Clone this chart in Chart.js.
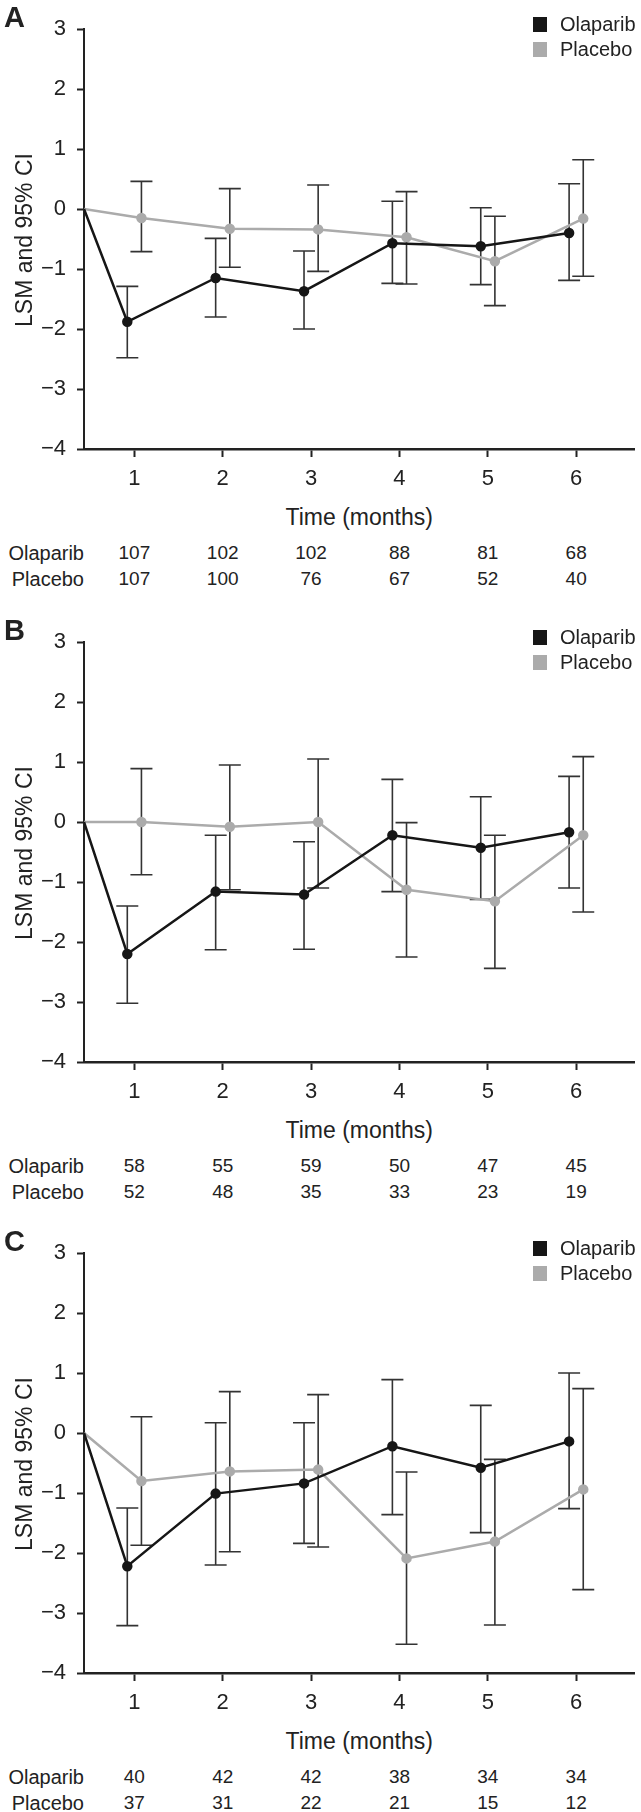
<!DOCTYPE html>
<html>
<head>
<meta charset="utf-8">
<script src="https://cdn.jsdelivr.net/npm/chart.js@4.4.1/dist/chart.umd.min.js"></script>
<style>
  body { margin: 0; background: #fff; font-family: "Liberation Sans", Arial, sans-serif; color: #222; }
  #page { position: relative; width: 641px; height: 1812px; overflow: hidden; }
  .panel { position: absolute; left: 0; width: 641px; height: 612px; }
  .panel canvas { position: absolute; left: 0; top: 0; }
  .letter { position: absolute; left: 4px; top: 1px; font-weight: bold; font-size: 29px; }
  .ytitle { position: absolute; left: 24px; top: 240px; transform: translate(-50%, -50%) rotate(-90deg); font-size: 23px; white-space: nowrap; }
  .xtitle { position: absolute; left: 363px; top: 517px; transform: translate(-50%, -50%); font-size: 23px; white-space: nowrap; }
  .legend { position: absolute; left: 533px; top: 12px; font-size: 20px; }
  .legend div { height: 25px; display: flex; align-items: center; }
  .legend .sw { display: inline-block; width: 14px; height: 15px; margin-right: 13px; }
  .risk { position: absolute; font-size: 19px; transform: translate(-50%, -50%); white-space: nowrap; }
  .risklab { position: absolute; font-size: 20px; transform: translate(-100%, -50%); white-space: nowrap; }
</style>
</head>
<body>
<div id="page"></div>
<script>
// months on the x axis
const MONTHS = [1, 2, 3, 4, 5, 6];
const TREATMENTS = ["Olaparib", "Placebo"];
const Y_TICKS = [-4, -3, -2, -1, 0, 1, 2, 3];

// panel A
const A_OLA    = [-1.88, -1.15, -1.37, -0.57, -0.62, -0.40];
const A_OLA_LO = [-2.48, -1.80, -2.00, -1.24, -1.26, -1.19];
const A_OLA_HI = [-1.29, -0.49, -0.70,  0.13,  0.02,  0.42];
const A_PLA    = [-0.15, -0.33, -0.34, -0.47, -0.87, -0.16];
const A_PLA_LO = [-0.71, -0.97, -1.04, -1.25, -1.61, -1.12];
const A_PLA_HI = [ 0.46,  0.34,  0.40,  0.29, -0.12,  0.82];
const A_N_OLA  = [107, 102, 102, 88, 81, 68];
const A_N_PLA  = [107, 100, 76, 67, 52, 40];

// panel B
const B_OLA    = [-2.20, -1.16, -1.21, -0.22, -0.43, -0.17];
const B_OLA_LO = [-3.02, -2.13, -2.12, -1.16, -1.29, -1.10];
const B_OLA_HI = [-1.40, -0.22, -0.33,  0.71,  0.42,  0.76];
const B_PLA    = [ 0.00, -0.08,  0.00, -1.13, -1.32, -0.22];
const B_PLA_LO = [-0.88, -1.13, -1.10, -2.25, -2.44, -1.50];
const B_PLA_HI = [ 0.89,  0.95,  1.05, -0.01, -0.22,  1.09];
const B_N_OLA  = [58, 55, 59, 50, 47, 45];
const B_N_PLA  = [52, 48, 35, 33, 23, 19];

// panel C
const C_OLA    = [-2.22, -1.01, -0.84, -0.22, -0.58, -0.14];
const C_OLA_LO = [-3.21, -2.20, -1.84, -1.36, -1.66, -1.26];
const C_OLA_HI = [-1.25,  0.17,  0.17,  0.89,  0.46,  1.00];
const C_PLA    = [-0.80, -0.64, -0.61, -2.09, -1.81, -0.94];
const C_PLA_LO = [-1.87, -1.98, -1.90, -3.52, -3.20, -2.61];
const C_PLA_HI = [ 0.27,  0.69,  0.64, -0.65, -0.44,  0.74];
const C_N_OLA  = [40, 42, 42, 38, 34, 34];
const C_N_PLA  = [37, 31, 22, 21, 15, 12];

const X_MIN = 0.43, X_MAX = 6.66;
const DODGE = 0.08;
const OLA_COLOR = "#161616";
const PLA_COLOR = "#ababab";
const BAR_COLOR = "#333333";

Chart.defaults.font.family = "'Liberation Sans', Arial, sans-serif";
Chart.defaults.color = "#222";

// draws the 95% CI whiskers from each dataset's lo/hi arrays
const errorBars = {
  id: "errorBars",
  beforeDatasetsDraw(chart) {
    const ctx = chart.ctx;
    const xs = chart.scales.x, ys = chart.scales.y;
    ctx.save();
    ctx.strokeStyle = BAR_COLOR;
    ctx.lineWidth = 1.6;
    chart.data.datasets.forEach(ds => {
      MONTHS.forEach((m, i) => {
        const x = xs.getPixelForValue(m + ds.shift);
        const yLo = ys.getPixelForValue(ds.lo[i]);
        const yHi = ys.getPixelForValue(ds.hi[i]);
        ctx.beginPath();
        ctx.moveTo(x, yLo); ctx.lineTo(x, yHi);
        ctx.moveTo(x - 11, yLo); ctx.lineTo(x + 11, yLo);
        ctx.moveTo(x - 11, yHi); ctx.lineTo(x + 11, yHi);
        ctx.stroke();
      });
    });
    ctx.restore();
  }
};

function series(label, vals, lo, hi, shift, color) {
  return {
    label: label,
    data: [{ x: X_MIN, y: 0 }].concat(MONTHS.map((m, i) => ({ x: m + shift, y: vals[i] }))),
    lo: lo, hi: hi, shift: shift,
    borderColor: color,
    backgroundColor: color,
    borderWidth: 2.5,
    pointRadius: [0, 4, 4, 4, 4, 4, 4],
    pointHoverRadius: 0,
    tension: 0
  };
}

function makePanel(top, letter, ola, olaLo, olaHi, pla, plaLo, plaHi, nOla, nPla) {
  const panel = document.createElement("div");
  panel.className = "panel";
  panel.style.top = top + "px";
  document.getElementById("page").appendChild(panel);

  const canvas = document.createElement("canvas");
  canvas.width = 641;
  canvas.height = 495;
  panel.appendChild(canvas);

  const chart = new Chart(canvas, {
    type: "line",
    data: {
      datasets: [
        series(TREATMENTS[0], ola, olaLo, olaHi, -DODGE, OLA_COLOR),
        series(TREATMENTS[1], pla, plaLo, plaHi, DODGE, PLA_COLOR)
      ]
    },
    options: {
      responsive: false,
      animation: false,
      layout: { padding: { top: 29, left: 0, right: 0, bottom: 0 } },
      plugins: { legend: { display: false }, tooltip: { enabled: false } },
      scales: {
        x: {
          type: "linear",
          min: X_MIN, max: X_MAX,
          afterBuildTicks: s => { s.ticks = MONTHS.map(v => ({ value: v })); },
          afterFit: s => { s.height = 46; },
          border: { display: true, color: "#222", width: 2.5 },
          grid: { drawOnChartArea: false, drawTicks: true, tickLength: 8, tickWidth: 2, color: "#222" },
          ticks: { font: { size: 22 }, padding: 9, maxRotation: 0 }
        },
        y: {
          min: -4, max: 3,
          afterBuildTicks: s => { s.ticks = Y_TICKS.map(v => ({ value: v })); },
          afterFit: s => { s.width = 84; },
          border: { display: true, color: "#222", width: 2 },
          grid: { drawOnChartArea: false, drawTicks: true, tickLength: 7, tickWidth: 2, color: "#222" },
          ticks: {
            font: { size: 22 }, padding: 11,
            callback: v => v < 0 ? "\u2212" + Math.abs(v) : String(v)
          }
        }
      }
    },
    plugins: [errorBars]
  });

  const add = (cls, text, css) => {
    const d = document.createElement("div");
    d.className = cls;
    d.textContent = text;
    Object.assign(d.style, css || {});
    panel.appendChild(d);
    return d;
  };

  add("letter", letter);
  add("ytitle", "LSM and 95% CI");
  add("xtitle", "Time (months)", { left: ((chart.chartArea.left + chart.chartArea.right) / 2) + "px" });

  const leg = add("legend", "");
  [[TREATMENTS[0], OLA_COLOR], [TREATMENTS[1], PLA_COLOR]].forEach(([name, col]) => {
    const row = document.createElement("div");
    row.innerHTML = `<span class="sw" style="background:${col}"></span>${name}`;
    leg.appendChild(row);
  });

  const rows = [[TREATMENTS[0], nOla, 553], [TREATMENTS[1], nPla, 579]];
  rows.forEach(([name, counts, y]) => {
    add("risklab", name, { left: chart.chartArea.left + "px", top: y + "px" });
    MONTHS.forEach((m, i) => {
      add("risk", String(counts[i]), { left: chart.scales.x.getPixelForValue(m) + "px", top: y + "px" });
    });
  });
}

makePanel(0, "A", A_OLA, A_OLA_LO, A_OLA_HI, A_PLA, A_PLA_LO, A_PLA_HI, A_N_OLA, A_N_PLA);
makePanel(613, "B", B_OLA, B_OLA_LO, B_OLA_HI, B_PLA, B_PLA_LO, B_PLA_HI, B_N_OLA, B_N_PLA);
makePanel(1224, "C", C_OLA, C_OLA_LO, C_OLA_HI, C_PLA, C_PLA_LO, C_PLA_HI, C_N_OLA, C_N_PLA);
</script>
</body>
</html>
